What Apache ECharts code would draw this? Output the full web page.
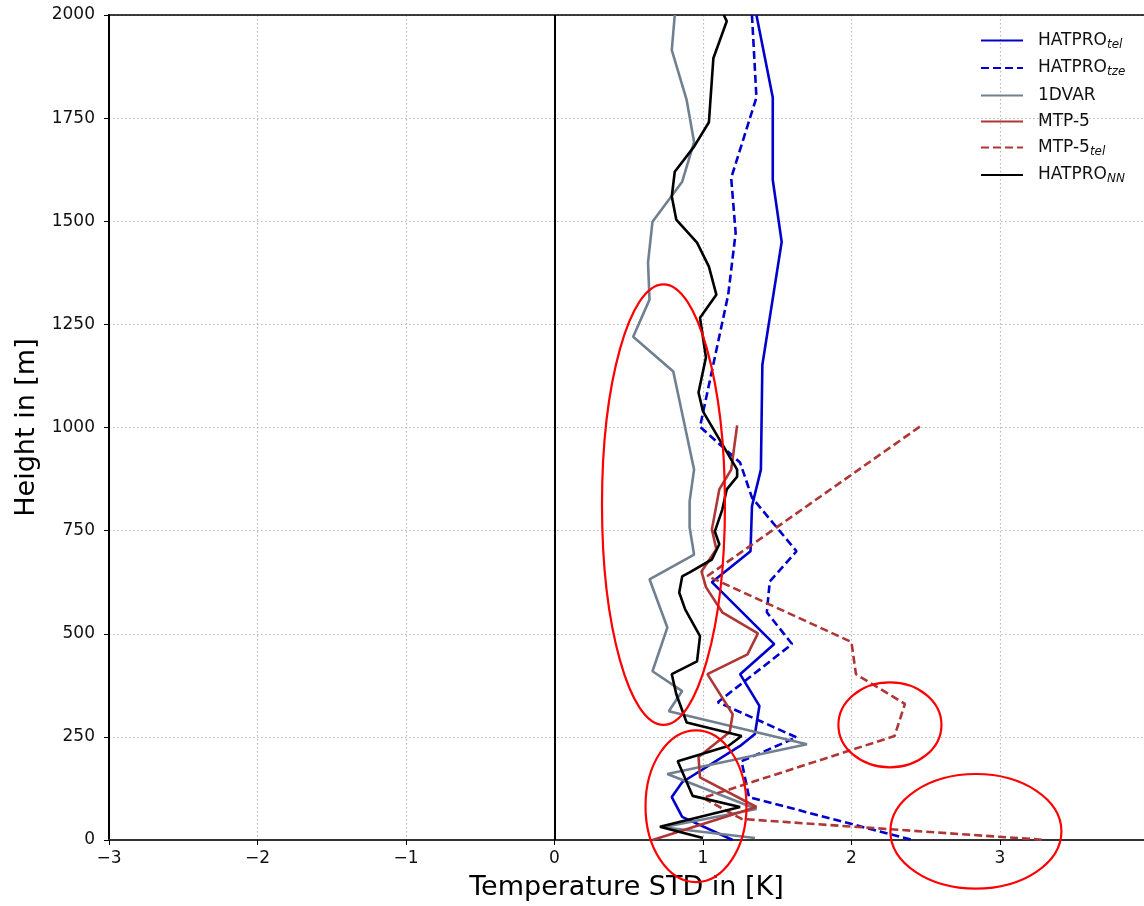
<!DOCTYPE html>
<html>
<head>
<meta charset="utf-8">
<script src="https://cdn.jsdelivr.net/npm/echarts@6/dist/echarts.min.js"></script>
<style>
  html, body { margin: 0; padding: 0; background: #fff; }
  #main { width: 1144px; height: 906px; }
</style>
</head>
<body>
<div id="main"></div>
<script>
// HATPRO_tel
const telHeight = [2000, 1800, 1600, 1450, 1152, 898, 809, 700, 625, 475, 402, 325, 257, 228, 140, 104, 56, 0]
const telStd = [1.36, 1.47, 1.47, 1.53, 1.40, 1.39, 1.33, 1.32, 1.06, 1.48, 1.25, 1.38, 1.35, 1.25, 0.86, 0.79, 0.86, 1.20]
// HATPRO_tze
const tzeHeight = [2000, 1800, 1605, 1472, 1322, 1002, 915, 830, 700, 627, 552, 475, 334, 249, 191, 104, 0]
const tzeStd = [1.33, 1.36, 1.19, 1.22, 1.17, 0.98, 1.25, 1.33, 1.63, 1.45, 1.43, 1.60, 1.10, 1.63, 1.26, 1.31, 2.41]
// 1DVAR
const varHeight = [2000, 1915, 1794, 1692, 1596, 1499, 1400, 1310, 1220, 1136, 898, 821, 758, 692, 632, 515, 409, 361, 312, 232, 160, 75, 31, 5]
const varStd = [0.81, 0.79, 0.89, 0.94, 0.86, 0.66, 0.63, 0.64, 0.53, 0.80, 0.94, 0.91, 0.91, 0.94, 0.64, 0.76, 0.66, 0.86, 0.77, 1.70, 0.76, 1.36, 0.73, 1.35]
// MTP-5
const mtpHeight = [1005, 898, 850, 753, 705, 651, 613, 552, 501, 450, 402, 305, 262, 201, 152, 80, 0]
const mtpStd = [1.23, 1.19, 1.11, 1.06, 1.09, 0.99, 1.02, 1.13, 1.37, 1.30, 1.03, 1.20, 1.18, 0.97, 0.98, 1.36, 0.66]
// MTP-5_tel
const mtpTelHeight = [1002, 640, 480, 402, 330, 252, 102, 51, 0]
const mtpTelStd = [2.46, 1.03, 2.00, 2.03, 2.36, 2.29, 1.00, 1.26, 3.31]
// HATPRO_NN
const nnHeight = [2000, 1985, 1895, 1740, 1681, 1620, 1560, 1504, 1448, 1390, 1322, 1266, 1170, 1085, 1039, 898, 881, 850, 801, 748, 717, 680, 649, 639, 600, 559, 494, 433, 402, 354, 285, 252, 228, 191, 107, 80, 32, 5]
const nnStd = [1.14, 1.16, 1.07, 1.04, 0.94, 0.81, 0.79, 0.82, 0.96, 1.04, 1.09, 0.98, 1.02, 0.97, 1.00, 1.23, 1.23, 1.16, 1.13, 1.08, 1.11, 1.06, 0.91, 0.86, 0.84, 0.88, 0.98, 0.96, 0.79, 0.82, 0.89, 1.26, 1.17, 0.83, 0.93, 1.25, 0.71, 1.00]

const yTicks = [0, 250, 500, 750, 1000, 1250, 1500, 1750, 2000]
const xTicks = [-3, -2, -1, 0, 1, 2, 3]

// red annotation ellipses: [cx, cy, rx, ry] in data units
const rings = [
  [0.734, 813, 0.414, 534],
  [0.953, 82, 0.340, 184],
  [2.259, 279, 0.347, 103],
  [2.838, 21, 0.576, 139],
]

const FONT = 'DejaVu Sans'
const blue = '#0000cd'
const brown = '#b03636'

function pairs(xs, hs) {
  return xs.map((v, i) => [v, hs[i]])
}

function mkSeries(name, xs, hs, color, dashed) {
  return {
    name: name,
    type: 'line',
    data: pairs(xs, hs),
    symbol: 'none',
    symbolSize: 0,
    showSymbol: false,
    animation: false,
    lineStyle: { color: color, width: 2.6, type: dashed ? [8, 4] : 'solid' },
    itemStyle: { color: color },
  }
}

const series = [
  mkSeries('HATPRO|tel', telStd, telHeight, blue, false),
  mkSeries('HATPRO|tze', tzeStd, tzeHeight, blue, true),
  mkSeries('1DVAR', varStd, varHeight, '#708090', false),
  mkSeries('MTP-5', mtpStd, mtpHeight, brown, false),
  mkSeries('MTP-5|tel', mtpTelStd, mtpTelHeight, brown, true),
  mkSeries('HATPRO|NN', nnStd, nnHeight, '#000', false),
]
// vertical zero line
series[0].markLine = {
  silent: true,
  symbol: 'none',
  label: { show: false },
  lineStyle: { color: '#000', width: 2, type: 'solid' },
  data: [{ xAxis: xTicks[3] }],
}

const chart = echarts.init(document.getElementById('main'))
const option = {
  backgroundColor: '#fff',
  animation: false,
  textStyle: { fontFamily: FONT },
  grid: { left: 109, top: 15, right: 0, bottom: 65 },
  legend: {
    orient: 'vertical',
    left: 975,
    top: 27,
    itemWidth: 42,
    itemHeight: 20,
    itemGap: 9,
    itemStyle: { opacity: 0 },
    data: series.map((s) => s.name),
    formatter: function (name) {
      const p = name.split('|')
      return p.length > 1 ? '{a|' + p[0] + '}{s|' + p[1] + '}' : '{a|' + p[0] + '}'
    },
    textStyle: {
      fontFamily: FONT,
      fontSize: 17,
      color: '#111',
      rich: {
        a: { fontFamily: FONT, fontSize: 17, color: '#111', lineHeight: 20, padding: [0, 0, 0, 10] },
        s: { fontFamily: FONT, fontSize: 12, fontStyle: 'italic', color: '#111', lineHeight: 13, verticalAlign: 'bottom' },
      },
    },
  },
  xAxis: [
    {
      type: 'value',
      min: -3,
      max: 3.97,
      interval: 1,
      name: 'Temperature STD in [K]',
      nameLocation: 'middle',
      nameGap: 34,
      nameTextStyle: { fontFamily: FONT, fontSize: 27, color: '#000' },
      axisLine: { onZero: false, lineStyle: { color: '#333', width: 2 } },
      axisTick: { show: true, length: 5, lineStyle: { color: '#000' } },
      axisLabel: {
        fontFamily: FONT,
        fontSize: 17,
        color: '#111',
        margin: 10,
        showMaxLabel: false,
        formatter: (v) => (xTicks.indexOf(v) < 0 ? '' : String(v).replace('-', '\u2212')),
      },
      splitLine: { show: true, lineStyle: { color: '#b8b8b8', type: [1.5, 2.5], width: 1.2 } },
    },
    {
      type: 'value',
      position: 'top',
      min: -3,
      max: 3.97,
      axisLine: { show: true, onZero: false, lineStyle: { color: '#000', width: 1.5 } },
      axisTick: { show: false },
      axisLabel: { show: false },
      splitLine: { show: false },
    },
  ],
  yAxis: {
    type: 'value',
    min: yTicks[0],
    max: yTicks[yTicks.length - 1],
    interval: 250,
    name: 'Height in [m]',
    nameLocation: 'middle',
    nameGap: 68,
    nameTextStyle: { fontFamily: FONT, fontSize: 27, color: '#000' },
    axisLine: { show: true, onZero: false, lineStyle: { color: '#000', width: 2 } },
    axisTick: { show: true, length: 5, lineStyle: { color: '#000' } },
    axisLabel: { fontFamily: FONT, fontSize: 17, color: '#111', margin: 14, formatter: (v) => String(v) },
    splitLine: { show: true, lineStyle: { color: '#b8b8b8', type: [1.5, 2.5], width: 1.2 } },
  },
  series: series,
}
chart.setOption(option)

// 红色标注椭圆
const graphics = rings.map((r) => {
  const c = chart.convertToPixel({ gridIndex: 0 }, [r[0], r[1]])
  const e = chart.convertToPixel({ gridIndex: 0 }, [r[0] + r[2], r[1] + r[3]])
  return {
    type: 'ellipse',
    z: 100,
    shape: { cx: c[0], cy: c[1], rx: Math.abs(e[0] - c[0]), ry: Math.abs(c[1] - e[1]) },
    style: { fill: null, stroke: '#ff0000', lineWidth: 2.2 },
  }
})
chart.setOption({ graphic: graphics })
</script>
</body>
</html>
